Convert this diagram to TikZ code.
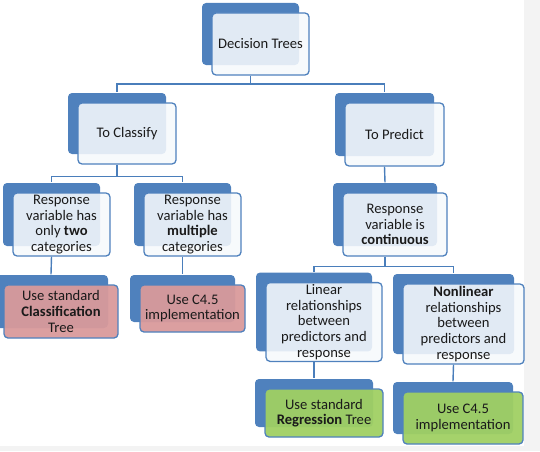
\documentclass[tikz,border=0pt]{standalone}
\usepackage{fontspec}
\setmainfont{Carlito}
\usetikzlibrary{shadows,backgrounds}
\definecolor{boxblue}{HTML}{4F81BD}
\definecolor{linkblue}{HTML}{4A7EBB}
\definecolor{boxpale}{HTML}{F6F9FC}
\definecolor{boxpink}{HTML}{D99A9B}
\definecolor{boxgreen}{HTML}{A0D063}
\definecolor{pagegray}{HTML}{F3F3F3}
\definecolor{textgray}{HTML}{1A1A1A}

\begin{document}
\begin{tikzpicture}[x=1pt,y=1pt,
  card/.style={draw=boxblue, line width=1.3pt, rounded corners=4pt,
    fill=boxpale, fill opacity=0.88, text opacity=1, text=textgray,
    align=center, inner sep=2pt, font=\fontsize{14.6}{15.6}\selectfont,
    general shadow={fill=boxblue, fill opacity=1, shadow xshift=-10pt, shadow yshift=10pt}},
  pinkcard/.style={card, fill=boxpink, fill opacity=0.95},
  greencard/.style={card, fill=boxgreen, fill opacity=0.95},
  link/.style={draw=linkblue, line width=1.4pt}]

  \useasboundingbox (0,0) rectangle (540,451);
  \fill[pagegray] (524,0) rectangle (540,451);
  \fill[pagegray] (0,0) rectangle (524,5);

  \node[card, name=top, minimum width=97pt, minimum height=62pt] at (260.5,407) {Decision Trees};

  \node[card, name=cls, minimum width=98pt, minimum height=61pt] at (127,317.5) {To Classify};
  \node[card, name=prd, minimum width=99pt, minimum height=63pt] at (394.5,316.5) {To Predict};

  \node[card, name=two, minimum width=97pt, minimum height=63pt] at (61.5,226.5)
    {Response\\variable has\\only \textbf{two}\\categories};
  \node[card, name=multi, minimum width=97pt, minimum height=63pt] at (192.5,226.5)
    {Response\\variable has\\\textbf{multiple}\\categories};
  \node[card, name=cont, minimum width=104pt, minimum height=63pt] at (395,226.5)
    {Response\\variable is\\\textbf{continuous}};

  \node[pinkcard, name=clstree, minimum width=114pt, minimum height=53pt] at (61,139.5)
    {Use standard\\\textbf{Classification}\\Tree};
  \node[pinkcard, name=c45a, minimum width=105pt, minimum height=47pt] at (192.5,142.5)
    {Use C4.5\\implementation};
  \node[card, name=lin, minimum width=116pt, minimum height=76pt] at (324,129)
    {Linear\\relationships\\between\\predictors and\\response};
  \node[card, name=nonlin, minimum width=121pt, minimum height=80pt] at (463.5,127)
    {\textbf{Nonlinear}\\relationships\\between\\predictors and\\response};

  \node[greencard, name=regtree, minimum width=118pt, minimum height=48pt] at (324,38)
    {Use standard\\\textbf{Regression} Tree};
  \node[greencard, name=c45b, minimum width=120pt, minimum height=52pt] at (463,33)
    {Use C4.5\\implementation};

  \begin{scope}[on background layer]
    \draw[link] ([xshift=-10pt]top.south) -- ++(0,-8.5) coordinate (j1);
    \draw[link] (j1) -| ([shift={(-10pt,10pt)}]cls.north);
    \draw[link] (j1) -| ([shift={(-10pt,10pt)}]prd.north);

    \draw[link] ([xshift=-10pt]cls.south) -- ++(0,-12) coordinate (j2);
    \draw[link] (j2) -| ([shift={(-10pt,10pt)}]two.north);
    \draw[link] (j2) -| ([shift={(-10pt,10pt)}]multi.north);

    \draw[link] ([xshift=-10pt]prd.south) -- ([shift={(-10pt,10pt)}]cont.north);

    \draw[link] ([xshift=-10pt]cont.south) -- ++(0,-10) coordinate (j3);
    \draw[link] (j3) -| ([shift={(-10pt,10pt)}]lin.north);
    \draw[link] (j3) -| ([shift={(-10pt,10pt)}]nonlin.north);

    \draw[link] ([xshift=-10pt]two.south) -- ([shift={(-10pt,10pt)}]clstree.north);
    \draw[link] ([xshift=-10pt]multi.south) -- ([shift={(-10pt,10pt)}]c45a.north);
    \draw[link] ([xshift=-10pt]lin.south) -- ([shift={(-10pt,10pt)}]regtree.north);
    \draw[link] ([xshift=-10pt]nonlin.south) -- ([shift={(-10pt,10pt)}]c45b.north);
  \end{scope}

\end{tikzpicture}
\end{document}
